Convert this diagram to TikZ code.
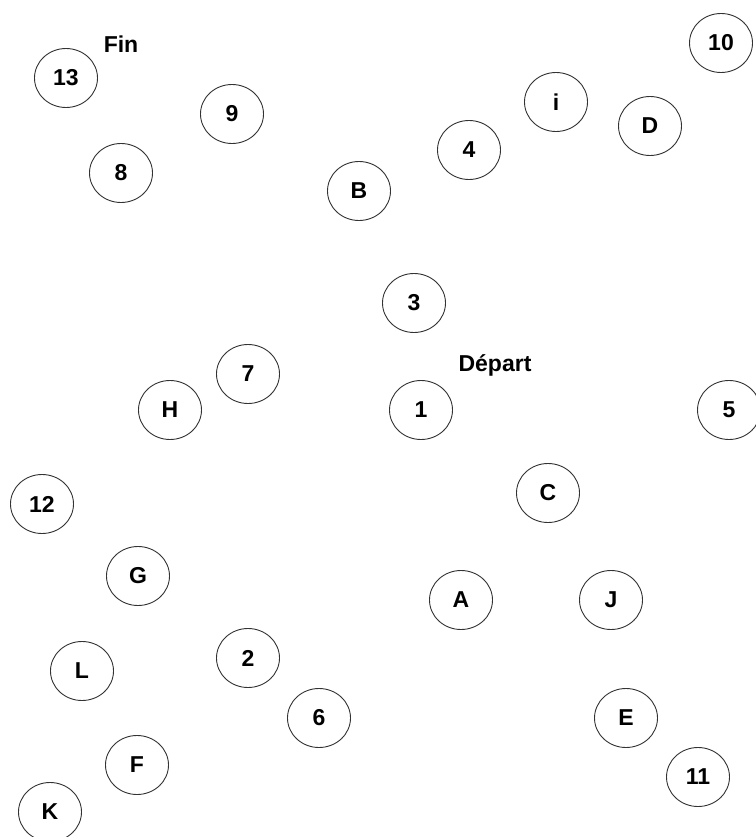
\documentclass[tikz,border=0pt]{standalone}
\usepackage{fontspec}
\setmainfont{Liberation Sans}
\usetikzlibrary{shapes.geometric}
\begin{document}
\begin{tikzpicture}[x=1pt,y=-1pt,
  bulle/.style={ellipse,draw=black!80,line width=0.9pt,minimum width=63pt,minimum height=59pt,inner sep=0pt,font=\fontsize{23}{27}\selectfont\bfseries},
  etiq/.style={font=\fontsize{23}{27}\selectfont\bfseries,inner sep=0pt}]
\useasboundingbox (0,0) rectangle (755,837);
\node[etiq] (fin) at (121,44) {Fin};
\node[etiq] (depart) at (495,365) {Départ};

\node[bulle] (n13) at (66,78) {13};
\node[bulle] (n9) at (232,114) {9};
\node[bulle] (n8) at (121,173) {8};
\node[bulle] (nB) at (359,191) {B};
\node[bulle] (n4) at (469,150) {4};
\node[bulle] (ni) at (556,102) {i};
\node[bulle] (nD) at (650,126) {D};
\node[bulle] (n10) at (721,43) {10};

\node[bulle] (n3) at (414,303) {3};
\node[bulle] (n7) at (248,374) {7};
\node[bulle] (nH) at (170,410) {H};
\node[bulle] (n1) at (421,410) {1};
\node[bulle] (n5) at (729,410) {5};

\node[bulle] (nC) at (548,493) {C};
\node[bulle] (n12) at (42,504) {12};
\node[bulle] (nG) at (138,576) {G};
\node[bulle] (nA) at (461,600) {A};
\node[bulle] (nJ) at (611,600) {J};
\node[bulle] (nL) at (82,671) {L};
\node[bulle] (n2) at (248,658) {2};
\node[bulle] (n6) at (319,718) {6};
\node[bulle] (nE) at (626,718) {E};
\node[bulle] (nF) at (137,765) {F};
\node[bulle] (n11) at (698,777) {11};
\node[bulle] (nK) at (50,812) {K};
\end{tikzpicture}
\end{document}
